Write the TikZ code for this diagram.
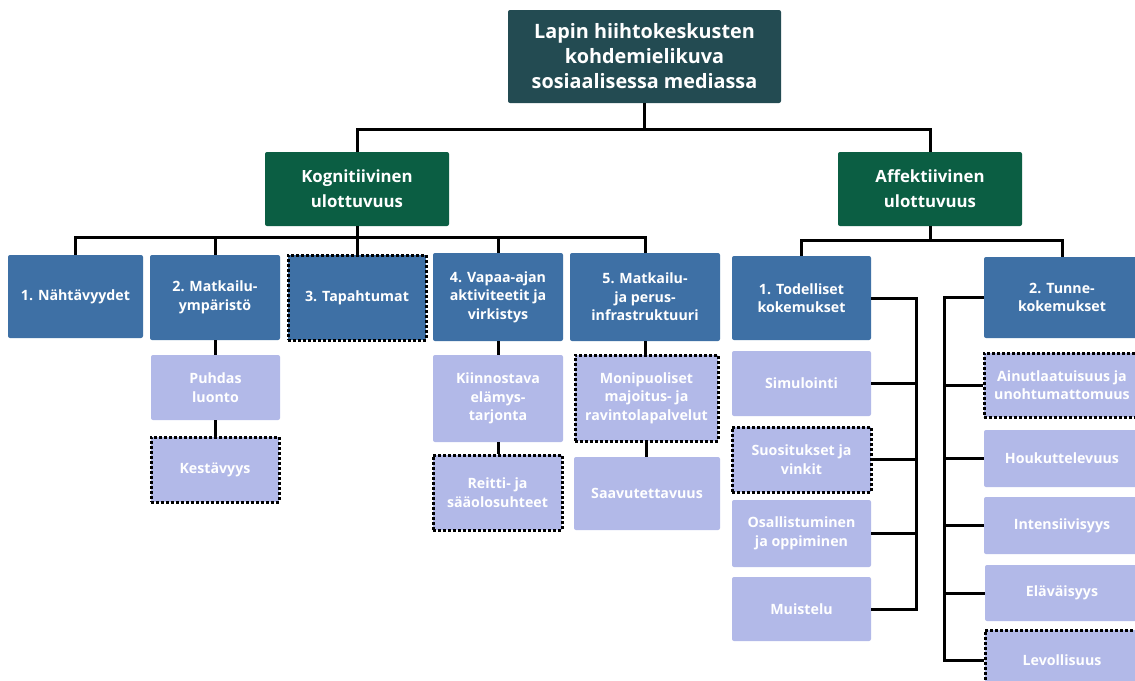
\documentclass[tikz,border=0pt]{standalone}
\usepackage{fontspec}
\setmainfont{Open Sans}
\usetikzlibrary{positioning}
\definecolor{rootteal}{HTML}{234B52}
\definecolor{dimgreen}{HTML}{0B5E43}
\definecolor{catblue}{HTML}{3E70A5}
\definecolor{itemlav}{HTML}{B2B9E8}
\tikzset{
  box/.style={rounded corners=2pt, text=white, align=center, inner sep=0pt,
    font=\bfseries\fontsize{14.2}{18.5}\selectfont},
  wh/.style 2 args={minimum width=#1pt, minimum height=#2pt},
  rootbox/.style={box, fill=rootteal, font=\bfseries\fontsize{19.8}{25}\selectfont},
  dimbox/.style={box, fill=dimgreen, wh={184}{74}, font=\bfseries\fontsize{16.8}{25}\selectfont},
  catbox/.style={box, fill=catblue},
  itembox/.style={box, fill=itemlav},
  marked/.style={draw=black, line width=3pt, dash pattern=on 3pt off 2pt, rounded corners=0pt},
  link/.style={line width=3pt}
}

\begin{document}
\begin{tikzpicture}[x=1pt,y=-1pt]
  \clip (0,0) rectangle (1135,680);
  \fill[white] (0,0) rectangle (1135,680);

  % top and the two dimensions
  \node[rootbox, wh={273}{93}] (root) at (644.5,56.5) {Lapin hiihtokeskusten\\kohdemielikuva\\sosiaalisessa mediassa};
  \node[dimbox] (kog) at (357,189) {Kognitiivinen\\ulottuvuus};
  \node[dimbox] (aff) at (930,189) {Affektiivinen\\ulottuvuus};

  % cognitive categories
  \node[catbox, wh={135}{83}] (n1) at (75.5,296.5) {1. Nähtävyydet};
  \node[catbox, wh={130}{85}] (n2) at (215,297.5) {2. Matkailu-\\ympäristö};
  \node[catbox, marked, wh={138}{85}] (n3) at (357,297.5) {3. Tapahtumat};
  \node[catbox, wh={130}{88}] (n4) at (498,297) {4. Vapaa-ajan\\aktiviteetit ja\\virkistys};
  \node[catbox, wh={150}{88}] (n5) at (645,297) {5. Matkailu-\\ja perus-\\infrastruktuuri};

  \node[itembox, wh={129}{65}] (puhdas) at (215.5,387.5) {Puhdas\\luonto};
  \node[itembox, marked, wh={128}{65}] (kest) at (215,469.5) {Kestävyys};
  \node[itembox, wh={130}{87}] (kiinn) at (498,398.5) {Kiinnostava\\elämys-\\tarjonta};
  \node[itembox, marked, wh={129}{75}] (reitti) at (497.5,492.5) {Reitti- ja\\sääolosuhteet};
  \node[itembox, marked, wh={143}{86}] (moni) at (646.5,398) {Monipuoliset\\majoitus- ja\\ravintolapalvelut};
  \node[itembox, wh={146}{73}] (saav) at (647,493.5) {Saavutettavuus};

  % affective categories
  \node[catbox, wh={139}{84}] (tod) at (801.5,298) {1. Todelliset\\kokemukset};
  \node[itembox, wh={139}{65}] (sim) at (801.5,383.5) {Simulointi};
  \node[itembox, marked, wh={139}{65}] (suos) at (801.5,459.5) {Suositukset ja\\vinkit};
  \node[itembox, wh={139}{67}] (osal) at (801.5,533.5) {Osallistuminen\\ja oppiminen};
  \node[itembox, wh={139}{64}] (muis) at (801.5,609) {Muistelu};

  \node[catbox, wh={156}{81}] (tun) at (1062,297.5) {2. Tunne-\\kokemukset};
  \node[itembox, marked, wh={156}{64}] (ainu) at (1062,385) {Ainutlaatuisuus ja\\unohtumattomuus};
  \node[itembox, wh={156}{57}] (houk) at (1062,458.5) {Houkuttelevuus};
  \node[itembox, wh={156}{57}] (inte) at (1062,525.5) {Intensiivisyys};
  \node[itembox, wh={154}{56}] (elav) at (1062,593) {Eläväisyys};
  \node[itembox, marked, wh={154}{60}] (levo) at (1062,660) {Levollisuus};

  % tree connectors
  \coordinate (bar0) at (0,129);
  \coordinate (bar1) at (0,237);
  \coordinate (bar2) at (0,240);
  \draw[link] (root.south) -- (root.south |- bar0);
  \draw[link] (kog.north) -- (kog.north |- bar0) -- (aff.north |- bar0) -- (aff.north);
  \draw[link] (kog.south) -- (kog.south |- bar1);
  \draw[link] (n1.north) -- (n1.north |- bar1) -- (n5.north |- bar1) -- (n5.north);
  \foreach \n in {n2,n3,n4}
    \draw[link] (\n.north |- bar1) -- (\n.north);
  \draw[link] (aff.south) -- (aff.south |- bar2);
  \draw[link] (tod.north) -- (tod.north |- bar2) -- (tun.north |- bar2) -- (tun.north);

  \draw[link] (n2.south) -- (n2.south |- puhdas.north);
  \draw[link] (puhdas.south) -- (puhdas.south |- kest.north);
  \draw[link] (n4.south) -- (n4.south |- kiinn.north);
  \draw[link] (kiinn.south) -- (kiinn.south |- reitti.north);
  \draw[link] (n5.south) -- (n5.south |- moni.north);
  \draw[link] (moni.south) -- (moni.south |- saav.north);

  % brackets
  \coordinate (tspine) at (916,0);
  \coordinate (uspine) at (944,0);
  \draw[link] (tod.east) -- (tod.east -| tspine) -- (muis.east -| tspine) -- (muis.east);
  \foreach \n in {sim,suos,osal}
    \draw[link] (\n.east) -- (\n.east -| tspine);
  \draw[link] (tun.west) -- (tun.west -| uspine) -- (levo.west -| uspine) -- (levo.west);
  \foreach \n in {ainu,houk,inte,elav}
    \draw[link] (\n.west) -- (\n.west -| uspine);
\end{tikzpicture}
\end{document}
